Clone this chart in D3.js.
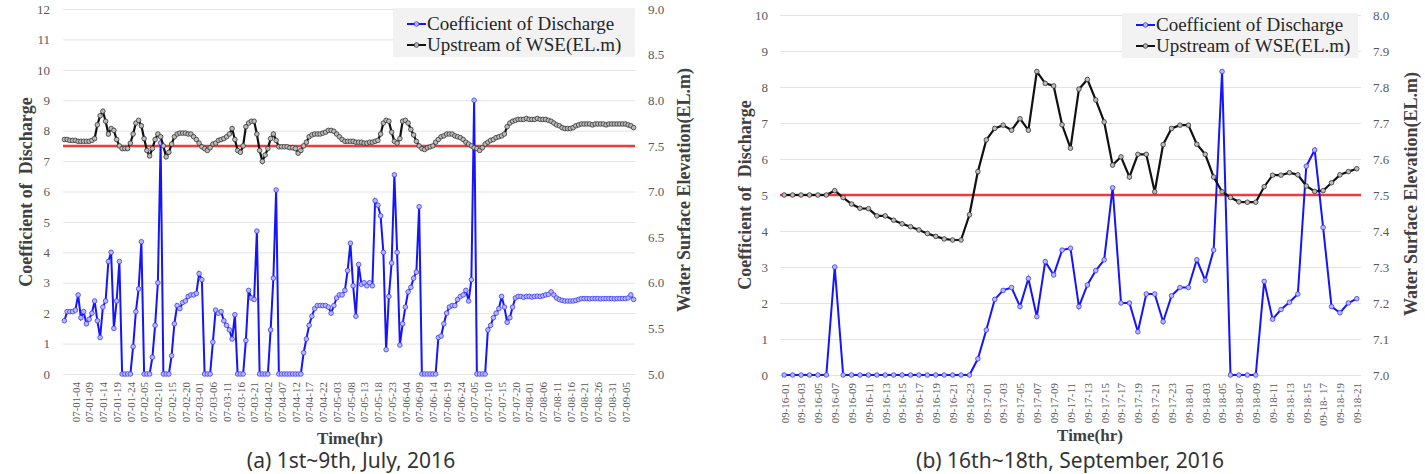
<!DOCTYPE html>
<html>
<head>
<script src="https://d3js.org/d3.v7.min.js"></script>
<style>
  body { margin: 0; background: #fff; }
  svg text { font-family: "Liberation Serif", "Times New Roman", serif; }
</style>
</head>
<body>
<div id="chart"></div>
<script>

    // (a) 1st~9th July 2016, hourly
    var julyLabels = ["07-01-04","07-01-09","07-01-14","07-01-19","07-01-24","07-02-05","07-02-10","07-02-15",
        "07-02-20","07-03-01","07-03-06","07-03-11","07-03-16","07-03-21","07-04-02","07-04-07","07-04-12",
        "07-04-17","07-04-22","07-05-03","07-05-08","07-05-13","07-05-18","07-05-23","07-06-04","07-06-09",
        "07-06-14","07-06-19","07-06-24","07-07-05","07-07-10","07-07-15","07-07-20","07-08-01","07-08-06",
        "07-08-11","07-08-16","07-08-21","07-08-26","07-08-31","07-09-05"];

    var julyCd = [
        1.75, 2.05, 2.05, 2.05, 2.1, 2.6, 1.85, 2.05, 1.65, 1.8,
        2.0, 2.4, 1.75, 1.2, 2.2, 2.4, 3.7, 4.0, 1.5, 2.4,
        3.7, 0, 0, 0, 0, 0.9, 2.05, 2.8, 4.35, 0,
        0, 0, 0.55, 1.6, 3.0, 7.6, 0, 0, 0, 0.6,
        1.65, 2.25, 2.15, 2.35, 2.4, 2.55, 2.6, 2.6, 2.65, 3.3,
        3.1, 0, 0, 0, 1.05, 2.1, 2.0, 2.05, 1.75, 1.6,
        1.45, 1.15, 1.95, 0, 0, 0, 1.1, 2.75, 2.5, 2.45,
        4.7, 0, 0, 0, 0, 1.45, 3.15, 6.05, 0, 0,
        0, 0, 0, 0, 0, 0, 0, 0.7, 1.15, 1.6,
        1.9, 2.15, 2.25, 2.25, 2.25, 2.25, 2.2, 2.0, 2.25, 2.5,
        2.6, 2.6, 2.75, 3.4, 4.3, 2.9, 1.9, 3.6, 2.95, 3.0,
        2.9, 3.0, 2.9, 5.7, 5.55, 5.2, 4.0, 0.8, 2.55, 3.65,
        6.55, 4.0, 0.95, 1.65, 2.2, 2.7, 2.85, 3.15, 3.35, 5.5,
        0, 0, 0, 0, 0, 0, 1.2, 1.25, 1.65, 2.0,
        2.2, 2.25, 2.25, 2.45, 2.55, 2.6, 2.75, 2.4, 3.1, 9.0,
        0, 0, 0, 0, 1.45, 1.6, 1.85, 2.0, 2.15, 2.55,
        2.2, 1.7, 1.85, 2.2, 2.5, 2.55, 2.55, 2.52, 2.55, 2.55,
        2.53, 2.55, 2.56, 2.55, 2.57, 2.6, 2.62, 2.7, 2.6, 2.5,
        2.45, 2.42, 2.4, 2.4, 2.4, 2.4, 2.42, 2.45, 2.48, 2.48,
        2.48, 2.47, 2.48, 2.48, 2.48, 2.47, 2.48, 2.48, 2.48, 2.48,
        2.47, 2.48, 2.48, 2.48, 2.48, 2.5, 2.6, 2.45];

    var julyWse = [
        7.57, 7.57, 7.56, 7.56, 7.56, 7.55, 7.55, 7.55, 7.55, 7.55,
        7.56, 7.58, 7.73, 7.83, 7.88, 7.77, 7.63, 7.69, 7.67, 7.57,
        7.50, 7.47, 7.47, 7.47, 7.53, 7.63, 7.75, 7.78, 7.72, 7.58,
        7.45, 7.39, 7.47, 7.57, 7.63, 7.60, 7.50, 7.38, 7.43, 7.52,
        7.60, 7.63, 7.64, 7.64, 7.64, 7.63, 7.63, 7.60, 7.57, 7.53,
        7.49, 7.47, 7.45, 7.48, 7.52, 7.53, 7.56, 7.57, 7.58, 7.60,
        7.63, 7.69, 7.57, 7.45, 7.43, 7.50, 7.71, 7.75, 7.77, 7.77,
        7.63, 7.45, 7.33, 7.40, 7.47, 7.58, 7.63, 7.56, 7.49, 7.49,
        7.49, 7.49, 7.48, 7.48, 7.47, 7.42, 7.45, 7.50, 7.54, 7.60,
        7.62, 7.63, 7.63, 7.63, 7.64, 7.65, 7.67, 7.67, 7.66, 7.63,
        7.60, 7.57, 7.55, 7.55, 7.55, 7.55, 7.54, 7.54, 7.54, 7.53,
        7.53, 7.54, 7.54, 7.55, 7.56, 7.63, 7.75, 7.78, 7.77, 7.65,
        7.55, 7.53, 7.58, 7.77, 7.78, 7.75, 7.68, 7.62, 7.55, 7.50,
        7.47, 7.46, 7.48, 7.49, 7.50, 7.54, 7.57, 7.60, 7.61, 7.63,
        7.63, 7.63, 7.61, 7.60, 7.59, 7.57, 7.54, 7.52, 7.50, 7.48,
        7.47, 7.45, 7.48, 7.52, 7.54, 7.56, 7.57, 7.59, 7.60, 7.61,
        7.63, 7.71, 7.75, 7.77, 7.78, 7.79, 7.79, 7.79, 7.80, 7.79,
        7.79, 7.79, 7.80, 7.79, 7.79, 7.79, 7.78, 7.77, 7.75, 7.73,
        7.72, 7.70, 7.69, 7.69, 7.69, 7.70, 7.72, 7.73, 7.74, 7.74,
        7.74, 7.74, 7.73, 7.74, 7.74, 7.74, 7.74, 7.73, 7.74, 7.74,
        7.74, 7.74, 7.74, 7.74, 7.74, 7.73, 7.72, 7.70];

    // (b) 16th~18th September 2016, hourly
    var septLabels = ["09-16-01","09-16-03","09-16-05","09-16-07","09-16-09","09-16-11","09-16-13","09-16-15",
        "09-16-17","09-16-19","09-16-21","09-16-23","09-17-01","09-17-03","09-17-05","09-17-07","09-17-09",
        "09-17-11","09-17-13","09-17-15","09-17-17","09-17-19","09-17-21","09-17-23","09-18-01","09-18-03",
        "09-18-05","09-18-07","09-18-09","09-18-11","09-18-13","09-18-15","09-18- 17","09-18-19","09-18-21"];

    var septCd = [
        0, 0, 0, 0, 0, 0, 3.0, 0, 0, 0,
        0, 0, 0, 0, 0, 0, 0, 0, 0, 0,
        0, 0, 0, 0.45, 1.25, 2.1, 2.35, 2.43, 1.9, 2.68,
        1.62, 3.15, 2.78, 3.47, 3.52, 1.9, 2.5, 2.9, 3.2, 5.2,
        2.0, 2.0, 1.2, 2.25, 2.25, 1.48, 2.2, 2.43, 2.43, 3.2,
        2.63, 3.47, 8.43, 0, 0, 0, 0, 2.6, 1.55, 1.82,
        2.02, 2.25, 5.8, 6.25, 4.1, 1.9, 1.73, 2.0, 2.12];

    var septWse = [
        7.500, 7.500, 7.500, 7.500, 7.500, 7.500, 7.512, 7.493, 7.475, 7.463,
        7.462, 7.442, 7.442, 7.430, 7.420, 7.412, 7.403, 7.393, 7.385, 7.378,
        7.375, 7.375, 7.445, 7.565, 7.653, 7.685, 7.694, 7.680, 7.712, 7.680,
        7.843, 7.810, 7.803, 7.695, 7.630, 7.794, 7.821, 7.764, 7.703, 7.583,
        7.606, 7.550, 7.613, 7.613, 7.509, 7.640, 7.685, 7.694, 7.694, 7.641,
        7.613, 7.550, 7.509, 7.493, 7.481, 7.480, 7.480, 7.523, 7.555, 7.555,
        7.562, 7.556, 7.525, 7.510, 7.512, 7.534, 7.556, 7.565, 7.573];

    var cdName = "Coefficient of Discharge";
    var wseName = "Upstream of WSE(EL.m)";

    var svg = d3.select('#chart').append('svg')
        .attr('width', 1425)
        .attr('height', 474);

    function drawPanel(p) {
        var g = svg.append('g');

        var x = d3.scalePoint()
            .domain(d3.range(p.cd.length))
            .range([p.left, p.right])
            .padding(0.5);

        var yL = d3.scaleLinear().domain(p.cdDomain).range([p.bottom, p.top]);
        var yR = d3.scaleLinear().domain(p.wseDomain).range([p.bottom, p.top]);

        // gridlines + left tick labels
        var ax = g.append('g')
            .attr('transform', 'translate(' + p.left + ',0)')
            .call(d3.axisLeft(yL).ticks(p.cdDomain[1]).tickSize(-(p.right - p.left)).tickPadding(p.padL));
        ax.select('.domain').remove();
        ax.selectAll('line').attr('stroke', '#e3e3e3');
        ax.selectAll('text').attr('fill', '#595959').style('font-size', '13px');

        var ar = g.append('g')
            .attr('transform', 'translate(' + p.right + ',0)')
            .call(d3.axisRight(yR).tickValues(p.wseTicks).tickSize(0).tickPadding(p.padR).tickFormat(d3.format('.1f')));
        ar.select('.domain').remove();
        ar.selectAll('text').attr('fill', '#595959').style('font-size', '13px');

        var axb = g.append('g')
            .attr('transform', 'translate(0,' + p.bottom + ')')
            .call(d3.axisBottom(x)
                .tickValues(p.labels.map(function(d, i) { return p.labelStart + i * p.labelStep; }))
                .tickFormat(function(d) { return p.labels[(d - p.labelStart) / p.labelStep]; })
                .tickSize(0));
        axb.select('.domain').remove();
        axb.selectAll('text')
            .attr('fill', '#595959')
            .style('font-size', '11px')
            .attr('y', 0)
            .attr('x', -8)
            .attr('dy', '0.35em')
            .attr('transform', 'rotate(-90)')
            .attr('text-anchor', 'end')
            .style('white-space', 'pre');

        // red reference level
        g.append('line')
            .attr('x1', p.left).attr('x2', p.right)
            .attr('y1', yL(p.redLevel)).attr('y2', yL(p.redLevel))
            .attr('stroke', '#f23a3a')
            .attr('stroke-width', 2.5);

        var lineCd = d3.line().x(function(d, i) { return x(i); }).y(function(d) { return yL(d); });
        var lineWse = d3.line().x(function(d, i) { return x(i); }).y(function(d) { return yR(d); });

        g.append('path').datum(p.cd)
            .attr('d', lineCd)
            .attr('fill', 'none')
            .attr('stroke', '#1414ff')
            .attr('stroke-width', 2);
        g.selectAll('circle.cd').data(p.cd).enter().append('circle')
            .attr('class', 'cd')
            .attr('cx', function(d, i) { return x(i); })
            .attr('cy', function(d) { return yL(d); })
            .attr('r', 2.3)
            .attr('fill', '#b8b8ff')
            .attr('stroke', '#3a3aff')
            .attr('stroke-width', 0.8);

        g.append('path').datum(p.wse)
            .attr('d', lineWse)
            .attr('fill', 'none')
            .attr('stroke', '#111')
            .attr('stroke-width', 2.2);
        g.selectAll('circle.wse').data(p.wse).enter().append('circle')
            .attr('class', 'wse')
            .attr('cx', function(d, i) { return x(i); })
            .attr('cy', function(d) { return yR(d); })
            .attr('r', 2.3)
            .attr('fill', '#bbb')
            .attr('stroke', '#333')
            .attr('stroke-width', 0.8);

        // axis titles
        g.append('text')
            .attr('transform', 'translate(' + p.titleL[0] + ',' + p.titleL[1] + ') rotate(-90)')
            .attr('text-anchor', 'middle')
            .attr('fill', '#404040')
            .style('font-size', '18px')
            .style('font-weight', 'bold')
            .style('white-space', 'pre')
            .text('Coefficient of  Discharge');

        g.append('text')
            .attr('transform', 'translate(' + p.titleR[0] + ',' + p.titleR[1] + ') rotate(-90)')
            .attr('text-anchor', 'middle')
            .attr('fill', '#404040')
            .style('font-size', '18px')
            .style('font-weight', 'bold')
            .text('Water Surface Elevation(EL.m)');

        g.append('text')
            .attr('x', p.timeX).attr('y', p.timeY)
            .attr('text-anchor', 'middle')
            .attr('fill', '#404040')
            .style('font-size', '17px')
            .style('font-weight', 'bold')
            .text('Time(hr)');

        // legend
        var lg = g.append('g').attr('transform', 'translate(' + p.legend[0] + ',' + p.legend[1] + ')');
        lg.append('rect')
            .attr('width', p.legend[2]).attr('height', p.legend[3])
            .attr('fill', '#f2f2f2');
        var items = [
            { name: cdName, color: '#1414ff', fill: '#b8b8ff', stroke: '#3a3aff' },
            { name: wseName, color: '#111', fill: '#bbb', stroke: '#333' }
        ];
        items.forEach(function(it, i) {
            var yy = p.legendRow0 + i * 21;
            lg.append('line')
                .attr('x1', 14).attr('x2', 33).attr('y1', yy).attr('y2', yy)
                .attr('stroke', it.color).attr('stroke-width', 2);
            lg.append('circle')
                .attr('cx', 23.5).attr('cy', yy).attr('r', 2.3)
                .attr('fill', it.fill).attr('stroke', it.stroke).attr('stroke-width', 0.8);
            lg.append('text')
                .attr('x', 34).attr('y', yy + 6)
                .attr('fill', '#262626')
                .style('font-size', '19px')
                .text(it.name);
        });

        // caption
        svg.append('text')
            .attr('x', p.capX).attr('y', 468)
            .attr('text-anchor', 'middle')
            .attr('fill', '#333')
            .style('font-family', '"Noto Sans", sans-serif')
            .style('font-size', '21px')
            .text(p.caption);
    }

    drawPanel({
        cd: julyCd, wse: julyWse, labels: julyLabels, labelStart: 4, labelStep: 5,
        left: 63, right: 635, top: 9, bottom: 374,
        cdDomain: [0, 12], wseDomain: [5, 9], wseTicks: d3.range(5, 9.01, 0.5),
        redLevel: 7.5, padL: 13, padR: 13,
        titleL: [32, 192], titleR: [690, 190], timeX: 350, timeY: 444,
        legend: [393, 8, 242, 49], legendRow0: 16,
        capX: 351, caption: '(a) 1st~9th, July, 2016'
    });

    drawPanel({
        cd: septCd, wse: septWse, labels: septLabels, labelStart: 0, labelStep: 2,
        left: 780, right: 1361, top: 15, bottom: 375,
        cdDomain: [0, 10], wseDomain: [7, 8], wseTicks: d3.range(7, 8.001, 0.1),
        redLevel: 5, padL: 12, padR: 12,
        titleL: [751, 195], titleR: [1417, 194], timeX: 1090, timeY: 441,
        legend: [1122, 13, 236, 45], legendRow0: 12,
        capX: 1070, caption: '(b) 16th~18th, September, 2016'
    });

</script>
</body>
</html>
